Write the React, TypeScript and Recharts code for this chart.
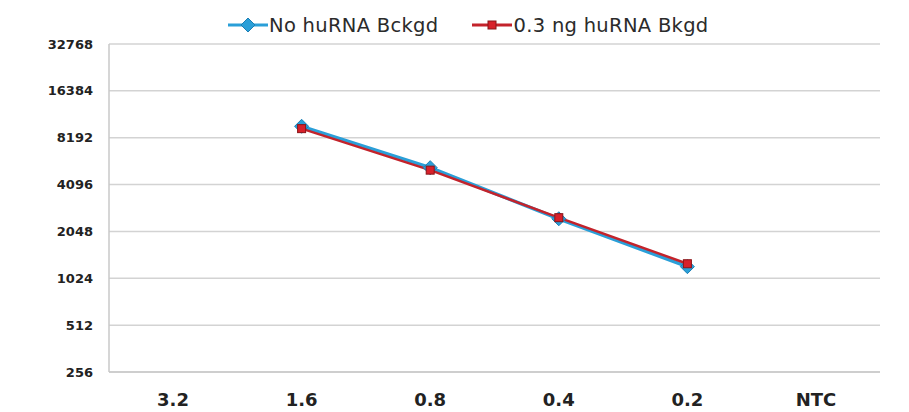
import React from "react";
import { LineChart, Line, XAxis, YAxis, CartesianGrid, Legend } from "recharts";

const categories = ["3.2", "1.6", "0.8", "0.4", "0.2", "NTC"];
const noBackground: (number | null)[] = [null, 9700, 5260, 2470, 1216, null];
const withBackground: (number | null)[] = [null, 9370, 5070, 2510, 1270, null];
const yTicks = [256, 512, 1024, 2048, 4096, 8192, 16384, 32768];
const seriesNames = ["No huRNA Bckgd", "0.3 ng huRNA Bkgd"];

const BLUE = "#2a9fd8";
const RED = "#c3232b";

const data = categories.map((c, i) => ({
  cat: c,
  a: noBackground[i],
  b: withBackground[i],
}));

const Diamond = (props: any) => {
  const { cx, cy } = props;
  if (cx == null || cy == null || props.value == null) return null;
  const r = 7;
  return (
    <polygon
      key={`d-${cx}`}
      points={`${cx},${cy - r} ${cx + r},${cy} ${cx},${cy + r} ${cx - r},${cy}`}
      fill={BLUE}
      stroke="#1b7fb5"
      strokeWidth={1}
    />
  );
};

const Square = (props: any) => {
  const { cx, cy } = props;
  if (cx == null || cy == null || props.value == null) return null;
  const s = 8;
  return (
    <rect
      key={`s-${cx}`}
      x={cx - s / 2}
      y={cy - s / 2}
      width={s}
      height={s}
      fill="#d8202a"
      stroke="#8a1418"
      strokeWidth={1}
    />
  );
};

const LegendContent = () => (
  <div
    style={{
      height: 44,
      display: "flex",
      alignItems: "center",
      paddingLeft: 228,
      paddingTop: 6,
      boxSizing: "border-box",
      fontFamily: "'DejaVu Sans', sans-serif",
      fontSize: 19.5,
      color: "#2b2b2b",
    }}
  >
    <svg width={40} height={16} style={{ marginRight: 1 }}>
      <line x1={0} y1={8} x2={40} y2={8} stroke={BLUE} strokeWidth={3} />
      <polygon points="20,1 27,8 20,15 13,8" fill={BLUE} stroke="#1b7fb5" strokeWidth={1} />
    </svg>
    <span style={{ marginRight: 34, letterSpacing: 0.3 }}>{seriesNames[0]}</span>
    <svg width={40} height={16} style={{ marginRight: 1 }}>
      <line x1={0} y1={8} x2={40} y2={8} stroke={RED} strokeWidth={3} />
      <rect x={16} y={4} width={8} height={8} fill="#d8202a" stroke="#8a1418" strokeWidth={1} />
    </svg>
    <span style={{ letterSpacing: 0.3 }}>{seriesNames[1]}</span>
  </div>
);

export default function App() {
  return (
    <div style={{ position: "absolute", left: 0, top: 0, background: "#fff" }}>
      <LineChart
        width={909}
        height={412}
        data={data}
        margin={{ top: 0, right: 29, bottom: 0, left: 0 }}
      >
        <Legend
          verticalAlign="top"
          align="left"
          content={<LegendContent />}
          wrapperStyle={{ top: 0, left: 0, width: 909, height: 44 }}
        />
        <CartesianGrid vertical={false} stroke="#d3d3d3" strokeWidth={1.5} />
        <XAxis
          dataKey="cat"
          height={40}
          padding={{ left: 64, right: 64 }}
          axisLine={{ stroke: "#c8c8c8", strokeWidth: 1.5 }}
          tickLine={false}
          tickMargin={15}
          tick={{ fill: "#222", fontSize: 18, fontWeight: "bold", fontFamily: "'DejaVu Sans', sans-serif" }}
        />
        <YAxis
          width={109}
          scale="log"
          domain={[256, 32768]}
          ticks={yTicks}
          allowDataOverflow
          interval={0}
          axisLine={{ stroke: "#c8c8c8", strokeWidth: 1.5 }}
          tickLine={false}
          tickSize={6}
          tickMargin={10}
          tick={{ fill: "#222", fontSize: 13, fontWeight: "bold", fontFamily: "'DejaVu Sans', sans-serif" }}
        />
        <Line
          dataKey="a"
          name={seriesNames[0]}
          stroke={BLUE}
          strokeWidth={3.5}
          dot={<Diamond />}
          activeDot={false}
          isAnimationActive={false}
          connectNulls={false}
        />
        <Line
          dataKey="b"
          name={seriesNames[1]}
          stroke={RED}
          strokeWidth={2.5}
          dot={<Square />}
          activeDot={false}
          isAnimationActive={false}
          connectNulls={false}
        />
      </LineChart>
    </div>
  );
}
